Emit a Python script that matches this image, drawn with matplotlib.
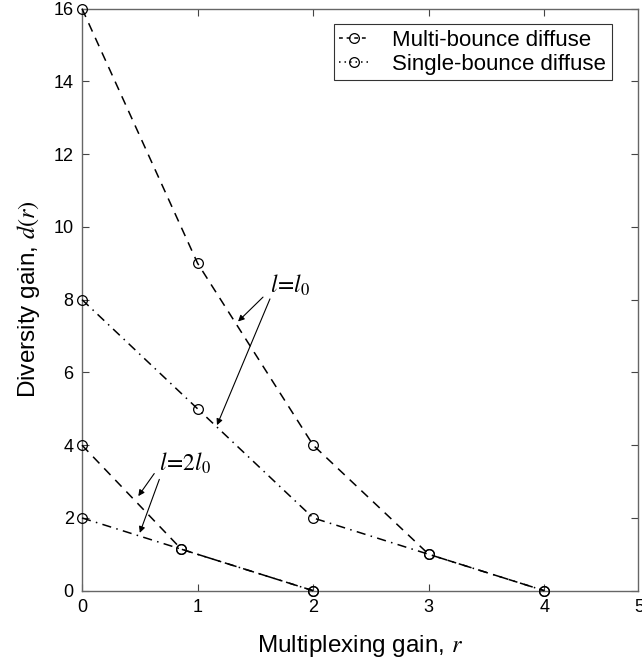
import matplotlib
matplotlib.use("Agg")
import matplotlib.pyplot as plt
from matplotlib.lines import Line2D

plt.rcParams['font.family'] = ['Liberation Sans', 'DejaVu Sans']
plt.rcParams['mathtext.fontset'] = 'stix'

# Data
r_multi_l0 = [0, 1, 2, 3, 4]
d_multi_l0 = [16, 9, 4, 1, 0]
r_single_l0 = [0, 1, 2, 3, 4]
d_single_l0 = [8, 5, 2, 1, 0]
r_multi_2l0 = [0, 0.86, 2]
d_multi_2l0 = [4, 1.14, 0]
r_single_2l0 = [0, 0.86, 2]
d_single_2l0 = [2, 1.14, 0]
x_ticks = [0, 1, 2, 3, 4]
y_ticks = [0, 2, 4, 6, 8, 10, 12, 14, 16]
labels = ['Multi-bounce diffuse', 'Single-bounce diffuse']

W, H = 642, 669
fig = plt.figure(figsize=(W / 100, H / 100), dpi=100)
ax = fig.add_axes([82 / W, 1 - 590.7 / H, (638 - 82) / W, (590.7 - 8.6) / H])

dash = (0, (6, 4.5))
dashdot = (0, (6, 3.5, 1, 3.5))
mk = dict(marker='o', markersize=7, markerfacecolor='none', markeredgecolor='k', markeredgewidth=0.9)

ax.plot(r_multi_l0, d_multi_l0, color='k', lw=1.1, linestyle=dash, **mk, clip_on=False, zorder=3)
ax.plot(r_single_l0, d_single_l0, color='k', lw=1.1, linestyle=dashdot, **mk, clip_on=False, zorder=3)
ax.plot(r_multi_2l0, d_multi_2l0, color='k', lw=1.1, linestyle=dash, **mk, clip_on=False, zorder=3)
ax.plot(r_single_2l0, d_single_2l0, color='k', lw=1.1, linestyle=dashdot, **mk, clip_on=False, zorder=3)

ax.set_xlim(0, 4.81)
ax.set_ylim(0, 16)
ax.set_xticks(x_ticks)
ax.set_yticks(y_ticks)
ax.tick_params(direction='in', length=5, width=0.8, color='#444444', labelsize=13,
               top=True, right=True, pad=6)
for s in ax.spines.values():
    s.set_color('#666666')
    s.set_linewidth(1.0)

# partially visible "5" tick label at right edge (same height as other tick labels)
ax.text(4.82, -0.23, '5', fontsize=13, ha='center', va='top', clip_on=False)

ax.set_xlabel('Multiplexing gain, $r$', fontsize=17.5, labelpad=12)
ax.set_ylabel('Diversity gain, $d(r)$', fontsize=17.5, labelpad=8)

h_multi = Line2D([], [], color='k', lw=1.1, linestyle=(0, (2.5, 2.5)), **mk)
h_single = Line2D([], [], color='k', lw=1.1, linestyle=(0, (1, 2.6)), **mk)
leg = ax.legend([h_multi, h_single], labels, loc='upper right', bbox_to_anchor=(0.953, 0.9735),
                borderaxespad=0, fontsize=16, handlelength=1.3, handletextpad=1.1,
                frameon=True, fancybox=False, edgecolor='k', borderpad=0.25,
                labelspacing=0.15)
leg.get_frame().set_linewidth(0.8)

arrow = dict(arrowstyle='-|>', lw=0.8, color='k', mutation_scale=9, shrinkA=0, shrinkB=0)
ax.text(1.80, 8.40, r'$l\!=\!l_0$', fontsize=17, ha='center', va='center')
ax.annotate('', xy=(1.35, 7.40), xytext=(1.566, 8.07), arrowprops=arrow)
ax.annotate('', xy=(1.168, 4.55), xytext=(1.626, 8.02), arrowprops=arrow)

ax.text(0.89, 3.51, r'$l\!=\!2l_0$', fontsize=17, ha='center', va='center')
ax.annotate('', xy=(0.487, 2.60), xytext=(0.625, 3.22), arrowprops=arrow)
ax.annotate('', xy=(0.50, 1.59), xytext=(0.669, 3.06), arrowprops=arrow)

fig.savefig('out.png', dpi=100)
